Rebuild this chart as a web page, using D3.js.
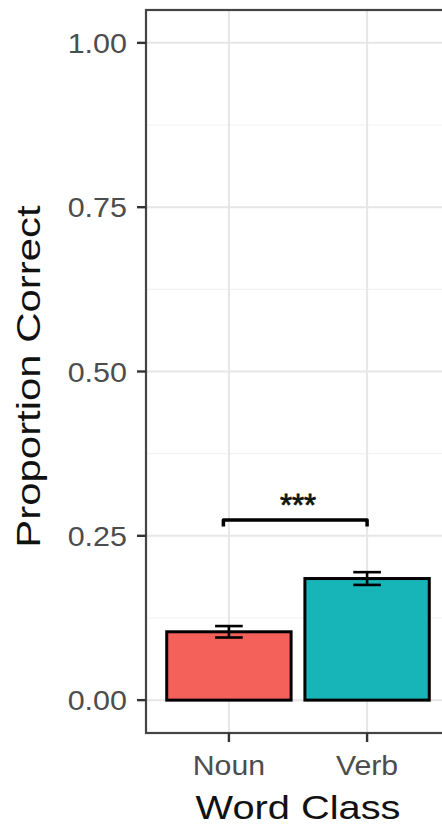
<!DOCTYPE html>
<html>
<head>
<meta charset="utf-8">
<script src="https://cdn.jsdelivr.net/npm/d3@7"></script>
<style>
  body { margin: 0; background: #fff; }
  text { font-family: "Liberation Sans", Arial, Helvetica, sans-serif; }
</style>
</head>
<body>
<div id="main"></div>
<script>
// word class accuracy, bars + se
var categories = ["Noun", "Verb"];
var means = [0.104, 0.185];
var errors = [0.0087, 0.0097];
var yTicks = [0, 0.25, 0.5, 0.75, 1];
var yTickLabels = ["0.00", "0.25", "0.50", "0.75", "1.00"];
var minorTicks = [0.125, 0.375, 0.625, 0.875];
var bracket = {from: 0.96, to: 2.0, y: 0.274, tip: 0.01, label: "***"};
var fills = ["#f4605a", "#17b4b8"];

var width = 442, height = 830;
var margin = {top: 10, right: -8, bottom: 97, left: 146};

var svg = d3.select("#main")
  .append("svg")
  .attr("width", width)
  .attr("height", height);

var x = d3.scalePoint()
  .domain(categories)
  .range([margin.left, width - margin.right])
  .padding(0.6);
var step = x.step();
// numeric position in ggplot units (1 = first category)
var xNum = v => x(categories[0]) + (v - 1) * step;

var y = d3.scaleLinear()
  .domain([-0.05, 1.05])
  .range([height - margin.bottom, margin.top]);

var data = categories.map((c, i) => ({cat: c, mean: means[i], se: errors[i], fill: fills[i]}));

//grid
var grid = svg.append("g");
grid.selectAll("line.minor")
  .data(minorTicks)
  .join("line")
  .attr("x1", margin.left).attr("x2", width)
  .attr("y1", d => y(d)).attr("y2", d => y(d))
  .attr("stroke", "#f2f2f2")
  .attr("stroke-width", 1.2);
grid.selectAll("line.major")
  .data(yTicks)
  .join("line")
  .attr("x1", margin.left).attr("x2", width)
  .attr("y1", d => y(d)).attr("y2", d => y(d))
  .attr("stroke", "#e6e6e6")
  .attr("stroke-width", 2);
grid.selectAll("line.vert")
  .data(categories)
  .join("line")
  .attr("x1", d => x(d)).attr("x2", d => x(d))
  .attr("y1", margin.top).attr("y2", height - margin.bottom)
  .attr("stroke", "#e6e6e6")
  .attr("stroke-width", 2);

//bars
var bw = step * 0.9;
svg.append("g")
  .selectAll("rect")
  .data(data)
  .join("rect")
  .attr("x", d => x(d.cat) - bw / 2)
  .attr("width", bw)
  .attr("y", d => y(d.mean))
  .attr("height", d => y(0) - y(d.mean))
  .attr("fill", d => d.fill)
  .attr("stroke", "#000")
  .attr("stroke-width", 3);

//error bars
var cw = step * 0.2;
var eb = svg.append("g")
  .attr("stroke", "#000")
  .attr("stroke-width", 2.6)
  .selectAll("g")
  .data(data)
  .join("g");
eb.append("line")
  .attr("x1", d => x(d.cat)).attr("x2", d => x(d.cat))
  .attr("y1", d => y(d.mean - d.se)).attr("y2", d => y(d.mean + d.se));
eb.append("line")
  .attr("x1", d => x(d.cat) - cw / 2).attr("x2", d => x(d.cat) + cw / 2)
  .attr("y1", d => y(d.mean + d.se)).attr("y2", d => y(d.mean + d.se));
eb.append("line")
  .attr("x1", d => x(d.cat) - cw / 2).attr("x2", d => x(d.cat) + cw / 2)
  .attr("y1", d => y(d.mean - d.se)).attr("y2", d => y(d.mean - d.se));

//significance bracket
svg.append("path")
  .attr("d", d3.line()([
    [xNum(bracket.from), y(bracket.y - bracket.tip)],
    [xNum(bracket.from), y(bracket.y)],
    [xNum(bracket.to), y(bracket.y)],
    [xNum(bracket.to), y(bracket.y - bracket.tip)]
  ]))
  .attr("fill", "none")
  .attr("stroke", "#000")
  .attr("stroke-width", 3.5)
  .attr("stroke-linejoin", "round");
svg.append("text")
  .attr("transform", `translate(${xNum(1.5)},${y(bracket.y) - 4})`)
  .attr("text-anchor", "middle")
  .attr("font-size", 31)
  .attr("fill", "#111")
  .attr("stroke", "#111")
  .attr("stroke-width", 0.8)
  .text(bracket.label);

//panel border
svg.append("rect")
  .attr("x", margin.left).attr("y", margin.top)
  .attr("width", width - margin.right - margin.left)
  .attr("height", height - margin.bottom - margin.top)
  .attr("fill", "none")
  .attr("stroke", "#444")
  .attr("stroke-width", 2.2);

//y axis ticks + labels
var yax = svg.append("g");
yax.selectAll("line")
  .data(yTicks)
  .join("line")
  .attr("x1", margin.left - 9).attr("x2", margin.left)
  .attr("y1", d => y(d)).attr("y2", d => y(d))
  .attr("stroke", "#333")
  .attr("stroke-width", 2.4);
yax.selectAll("text")
  .data(yTicks)
  .join("text")
  .attr("transform", d => `translate(${margin.left - 19},${y(d)}) scale(1.07,1)`)
  .attr("dy", "0.36em")
  .attr("text-anchor", "end")
  .attr("font-size", 28.5)
  .attr("fill", "#4d4d4d")
  .text((d, i) => yTickLabels[i]);

//x axis ticks + labels
var xax = svg.append("g");
xax.selectAll("line")
  .data(categories)
  .join("line")
  .attr("x1", d => x(d)).attr("x2", d => x(d))
  .attr("y1", height - margin.bottom).attr("y2", height - margin.bottom + 9)
  .attr("stroke", "#333")
  .attr("stroke-width", 2.4);
xax.selectAll("text")
  .data(categories)
  .join("text")
  .attr("transform", d => `translate(${x(d)},${height - margin.bottom + 42}) scale(1.08,1)`)
  .attr("text-anchor", "middle")
  .attr("font-size", 28)
  .attr("fill", "#4d4d4d")
  .text(d => d);

//titles
svg.append("text")
  .attr("transform", `translate(${xNum(1.5)},${height - 11}) scale(1.17,1)`)
  .attr("text-anchor", "middle")
  .attr("font-size", 34)
  .attr("fill", "#111")
  .text("Word Class");

svg.append("text")
  .attr("transform", `translate(40,${(margin.top + height - margin.bottom) / 2 + 5}) rotate(-90) scale(1.27,1)`)
  .attr("text-anchor", "middle")
  .attr("font-size", 33)
  .attr("fill", "#111")
  .text("Proportion Correct");
</script>
</body>
</html>
